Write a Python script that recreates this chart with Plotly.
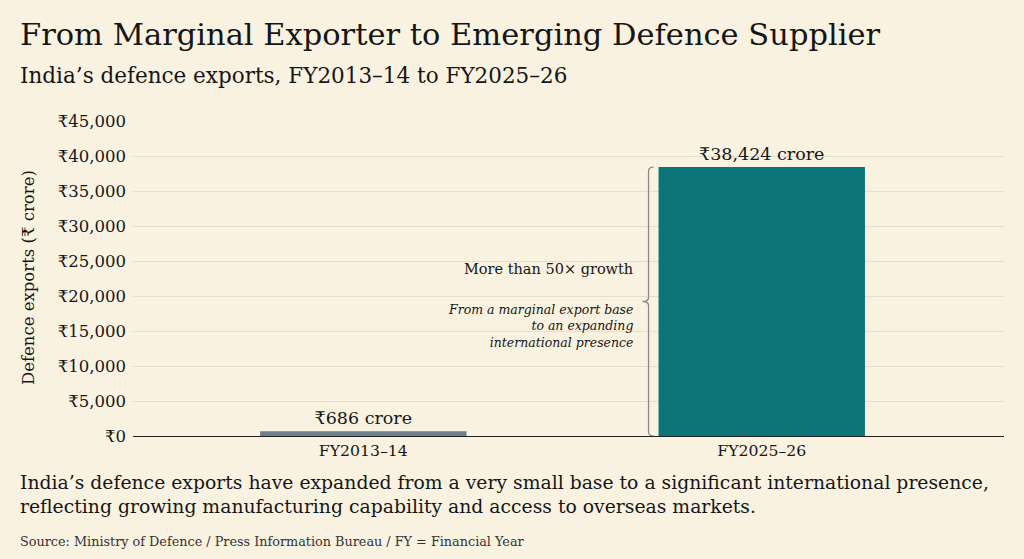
import plotly.graph_objects as go

# data
years = ["FY2013–14", "FY2025–26"]
exports = [686, 38424]
bar_colors = ["#6d7e8c", "#0a7479"]
y_ticks = [0, 5000, 10000, 15000, 20000, 25000, 30000, 35000, 40000, 45000]
y_tick_labels = ["₹" + f"{v:,}" for v in y_ticks]

title = "From Marginal Exporter to Emerging Defence Supplier"
subtitle = "India’s defence exports, FY2013–14 to FY2025–26"
growth_note = "More than 50× growth"
growth_detail = "From a marginal export base<br>to an expanding<br>international presence"
takeaway = (
    "India’s defence exports have expanded from a very small base to a significant international presence,"
    "<br>reflecting growing manufacturing capability and access to overseas markets."
)
source = "Source: Ministry of Defence / Press Information Bureau / FY = Financial Year"

SERIF = "DejaVu Serif"
BG = "#faf2e1"
INK = "#161616"

# plot box in pixels (for placing text outside it)
W, H = 1024, 559
PL, PR, PT, PB = 133, 20, 121, 123
plot_w = W - PL - PR
plot_h = H - PT - PB


def px(x):
    return (x - PL) / plot_w


def py(y):
    return (H - PB - y) / plot_h


bar_width = 0.518

fig = go.Figure(
    go.Bar(
        x=years,
        y=exports,
        width=bar_width,
        marker=dict(color=bar_colors, line=dict(width=0)),
        text=["₹" + f"{v:,} crore" for v in exports],
        textposition="outside",
        textfont=dict(family=SERIF, size=17.5, color=INK),
        cliponaxis=False,
        hoverinfo="skip",
    )
)

# curly brace to the left of the big bar
top = exports[1]
y_unit = 45000 / plot_h  # value per pixel
x_unit = 1 / 398.0  # category units per pixel
xl = 1 - bar_width / 2 - 10 * x_unit
xe = xl + 5 * x_unit
xt = xl - 6 * x_unit
mid = top / 2
d = 4 * y_unit
brace = (
    f"M {xe},{top} Q {xl},{top} {xl},{top - d} "
    f"L {xl},{mid + d} Q {xl},{mid} {xt},{mid} "
    f"Q {xl},{mid} {xl},{mid - d} "
    f"L {xl},{d} Q {xl},0 {xe},0"
)
fig.add_shape(
    type="path",
    path=brace,
    xref="x",
    yref="y",
    line=dict(color="#8a8a8a", width=1.3),
)

note_x = xt - 8 * x_unit
fig.add_annotation(
    x=note_x, y=(436 - 269) * y_unit, xref="x", yref="y",
    text=growth_note, showarrow=False, xanchor="right", yanchor="middle",
    font=dict(family=SERIF, size=14.5, color=INK),
)
fig.add_annotation(
    x=note_x, y=(436 - 326) * y_unit, xref="x", yref="y",
    text="<i>" + growth_detail + "</i>", showarrow=False, xanchor="right",
    yanchor="middle", align="right",
    font=dict(family=SERIF, size=12.5, color=INK),
)

# header / footer text
fig.add_annotation(
    x=px(18), y=py(34), xref="paper", yref="paper", text=title,
    showarrow=False, xanchor="left", yanchor="middle",
    font=dict(family=SERIF, size=30.5, color=INK),
)
fig.add_annotation(
    x=px(18), y=py(75), xref="paper", yref="paper", text=subtitle,
    showarrow=False, xanchor="left", yanchor="middle",
    font=dict(family=SERIF, size=21.5, color=INK),
)
fig.add_annotation(
    x=px(18), y=py(494), xref="paper", yref="paper", text=takeaway,
    showarrow=False, xanchor="left", yanchor="middle", align="left",
    font=dict(family=SERIF, size=18.8, color=INK),
)
fig.add_annotation(
    x=px(18), y=py(541), xref="paper", yref="paper", text=source,
    showarrow=False, xanchor="left", yanchor="middle",
    font=dict(family=SERIF, size=12.8, color="#333333"),
)
fig.add_annotation(
    x=px(28), y=py(278), xref="paper", yref="paper",
    text="Defence exports (₹ crore)", textangle=-90,
    showarrow=False, xanchor="center", yanchor="middle",
    font=dict(family=SERIF, size=16.5, color=INK),
)

fig.update_layout(
    width=W,
    height=H,
    margin=dict(l=PL, r=PR, t=PT, b=PB),
    paper_bgcolor=BG,
    plot_bgcolor=BG,
    showlegend=False,
    font=dict(family=SERIF, color=INK),
    xaxis=dict(
        type="category",
        range=[-0.578, 1.608],
        showgrid=False,
        showline=True,
        linecolor="#222222",
        linewidth=1.2,
        ticks="",
        tickfont=dict(family=SERIF, size=15.7, color=INK),
        fixedrange=True,
    ),
    yaxis=dict(
        range=[0, 45000],
        tickvals=y_ticks,
        ticktext=y_tick_labels,
        showgrid=True,
        gridcolor="#e7dcc5",
        gridwidth=1,
        zeroline=False,
        showline=False,
        ticks="",
        ticklabelstandoff=6,
        tickfont=dict(family=SERIF, size=16.5, color=INK),
        fixedrange=True,
    ),
)

# drop the page margin so the figure fills the window edge to edge
page_js = (
    "document.body.style.margin='0';"
    "document.body.style.background='" + BG + "';"
)
fig.write_html("out.html", config={"displayModeBar": False}, post_script=page_js)
